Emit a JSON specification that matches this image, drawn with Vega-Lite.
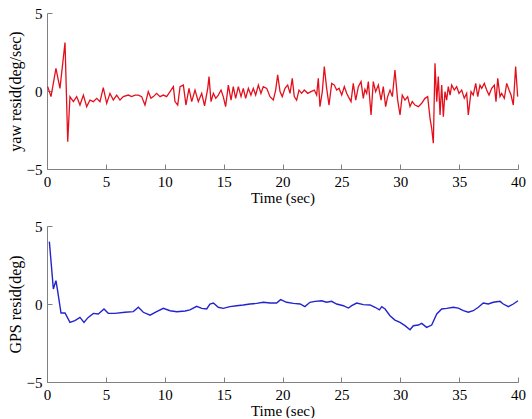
{
  "$schema": "https://vega.github.io/schema/vega-lite/v6.json",
  "padding": {"left": 7, "top": 6, "right": 8, "bottom": 0},
  "spacing": 14,
  "background": "white",
  "config": {
    "view": {"stroke": null},
    "font": "Liberation Serif",
    "axis": {
      "grid": false,
      "domainColor": "#808080",
      "tickColor": "#808080",
      "tickSize": -5,
      "labelFontSize": 15,
      "labelColor": "#000000",
      "titleFontSize": 15,
      "titleFontWeight": "normal",
      "titleColor": "#000000",
      "labelPadding": 10,
      "labelFlush": false
    },
    "axisY": {"titleFontSize": 16}
  },
  "datasets": {
    "yaw": [
      {"t":0.06,"v":0.28},{"t":0.34,"v":-0.36},{"t":0.76,"v":1.45},{"t":1.1,"v":0.17},{"t":1.53,"v":3.1},{"t":1.76,"v":-3.25},{"t":1.95,"v":-0.36},
      {"t":2.24,"v":-0.68},{"t":2.52,"v":-0.36},{"t":2.8,"v":-0.9},{"t":3.09,"v":-0.26},{"t":3.37,"v":-1.0},{"t":3.65,"v":-0.58},{"t":3.94,"v":-0.68},
      {"t":4.22,"v":-0.47},{"t":4.5,"v":-0.68},{"t":4.78,"v":0.21},{"t":5.07,"v":-0.79},{"t":5.35,"v":-0.15},{"t":5.63,"v":-0.58},{"t":5.92,"v":-0.26},
      {"t":6.2,"v":-0.58},{"t":6.48,"v":-0.36},{"t":6.9,"v":-0.26},{"t":7.19,"v":-0.36},{"t":7.47,"v":-0.26},{"t":7.76,"v":-0.26},{"t":8.04,"v":-0.36},
      {"t":8.32,"v":-0.9},{"t":8.6,"v":-0.04},{"t":8.83,"v":-0.47},{"t":9.03,"v":-0.36},{"t":9.31,"v":-0.15},{"t":9.6,"v":-0.36},{"t":9.88,"v":-0.26},
      {"t":10.16,"v":-0.36},{"t":10.45,"v":-0.04},{"t":10.73,"v":0.28},{"t":10.87,"v":-0.68},{"t":11.1,"v":-0.9},{"t":11.3,"v":0.28},{"t":11.58,"v":0.38},
      {"t":11.8,"v":-0.9},{"t":12.06,"v":0.17},{"t":12.29,"v":-0.68},{"t":12.57,"v":0.06},{"t":12.85,"v":-0.68},{"t":13.14,"v":-0.15},{"t":13.38,"v":-0.95},
      {"t":13.65,"v":0.17},{"t":13.76,"v":0.92},{"t":13.93,"v":-0.68},{"t":14.13,"v":-0.15},{"t":14.33,"v":-0.47},{"t":14.55,"v":-0.26},{"t":14.78,"v":0.06},
      {"t":14.97,"v":-0.36},{"t":15.17,"v":-1.0},{"t":15.4,"v":0.38},{"t":15.63,"v":-0.58},{"t":15.82,"v":0.28},{"t":16.02,"v":-0.47},{"t":16.25,"v":0.28},
      {"t":16.48,"v":-0.36},{"t":16.67,"v":0.17},{"t":16.87,"v":-0.47},{"t":17.1,"v":0.17},{"t":17.32,"v":-0.26},{"t":17.52,"v":0.17},{"t":17.72,"v":-0.26},
      {"t":17.95,"v":0.38},{"t":18.17,"v":-0.15},{"t":18.37,"v":0.28},{"t":18.66,"v":0.17},{"t":18.94,"v":-0.36},{"t":19.22,"v":-0.58},{"t":19.42,"v":0.06},
      {"t":19.59,"v":1.03},{"t":19.79,"v":-0.04},{"t":19.98,"v":-0.36},{"t":20.21,"v":0.17},{"t":20.44,"v":0.38},{"t":20.64,"v":-0.15},{"t":20.83,"v":0.81},
      {"t":21.0,"v":-0.36},{"t":21.2,"v":-0.58},{"t":21.4,"v":0.06},{"t":21.63,"v":-0.15},{"t":21.85,"v":0.06},{"t":22.14,"v":-0.15},{"t":22.42,"v":-0.04},
      {"t":22.7,"v":0.06},{"t":22.9,"v":-0.26},{"t":23.04,"v":0.81},{"t":23.18,"v":-1.0},{"t":23.38,"v":-0.04},{"t":23.55,"v":1.56},{"t":23.75,"v":0.17},
      {"t":23.95,"v":-0.9},{"t":24.18,"v":0.49},{"t":24.4,"v":0.38},{"t":24.6,"v":0.06},{"t":24.8,"v":0.17},{"t":25.03,"v":-0.26},{"t":25.25,"v":0.28},
      {"t":25.45,"v":-0.15},{"t":25.59,"v":-0.36},{"t":25.82,"v":-0.68},{"t":26.01,"v":0.49},{"t":26.22,"v":-0.58},{"t":26.44,"v":0.28},{"t":26.67,"v":0.6},
      {"t":26.86,"v":-0.47},{"t":27.0,"v":0.1},{"t":27.15,"v":-0.15},{"t":27.29,"v":0.6},{"t":27.52,"v":-1.54},{"t":27.71,"v":0.6},{"t":27.91,"v":-0.04},
      {"t":28.14,"v":0.38},{"t":28.37,"v":-0.58},{"t":28.56,"v":0.28},{"t":28.76,"v":-1.0},{"t":28.93,"v":-0.36},{"t":29.13,"v":0.06},{"t":29.33,"v":-0.36},
      {"t":29.55,"v":1.35},{"t":29.78,"v":-0.58},{"t":29.98,"v":-1.54},{"t":30.17,"v":-0.26},{"t":30.4,"v":-0.58},{"t":30.63,"v":-0.36},{"t":30.83,"v":-1.0},
      {"t":31.02,"v":-0.68},{"t":31.25,"v":-0.9},{"t":31.54,"v":-1.0},{"t":31.82,"v":-0.79},{"t":32.1,"v":-0.47},{"t":32.33,"v":-0.36},{"t":32.53,"v":-1.75},
      {"t":32.67,"v":-2.39},{"t":32.81,"v":-3.35},{"t":32.95,"v":1.77},{"t":33.1,"v":-0.68},{"t":33.23,"v":0.92},{"t":33.38,"v":-1.54},{"t":33.52,"v":0.38},
      {"t":33.66,"v":-1.65},{"t":33.8,"v":-0.04},{"t":33.94,"v":-0.58},{"t":34.08,"v":0.28},{"t":34.23,"v":-0.26},{"t":34.37,"v":0.38},{"t":34.59,"v":0.06},
      {"t":34.79,"v":0.28},{"t":34.99,"v":-0.15},{"t":35.22,"v":0.06},{"t":35.44,"v":-0.47},{"t":35.64,"v":-0.15},{"t":35.78,"v":-1.54},{"t":36.01,"v":-0.04},
      {"t":36.2,"v":-0.26},{"t":36.41,"v":0.49},{"t":36.58,"v":-0.36},{"t":36.77,"v":0.38},{"t":36.92,"v":0.17},{"t":37.14,"v":0.49},{"t":37.34,"v":0.06},
      {"t":37.54,"v":-0.26},{"t":37.77,"v":0.17},{"t":37.99,"v":0.38},{"t":38.13,"v":-0.68},{"t":38.28,"v":0.81},{"t":38.47,"v":-0.36},{"t":38.61,"v":-0.15},
      {"t":38.84,"v":-0.47},{"t":39.04,"v":0.49},{"t":39.24,"v":0.06},{"t":39.41,"v":-0.26},{"t":39.6,"v":-0.9},{"t":39.8,"v":1.56},{"t":39.97,"v":-0.36}
    ],
    "gps": [
      {"t":0.2,"v":4.0},{"t":0.54,"v":0.96},{"t":0.76,"v":1.5},{"t":0.88,"v":0.96},{"t":1.19,"v":-0.58},{"t":1.53,"v":-0.58},{"t":1.95,"v":-1.18},
      {"t":2.37,"v":-1.07},{"t":2.8,"v":-0.86},{"t":3.14,"v":-1.18},{"t":3.5,"v":-0.86},{"t":3.94,"v":-0.6},{"t":4.36,"v":-0.64},{"t":4.84,"v":-0.32},
      {"t":5.2,"v":-0.6},{"t":5.77,"v":-0.6},{"t":6.62,"v":-0.53},{"t":7.33,"v":-0.49},{"t":7.76,"v":-0.21},{"t":8.18,"v":-0.53},{"t":8.75,"v":-0.72},
      {"t":9.31,"v":-0.49},{"t":9.88,"v":-0.28},{"t":10.45,"v":-0.43},{"t":11.02,"v":-0.5},{"t":11.73,"v":-0.45},{"t":12.14,"v":-0.38},{"t":12.71,"v":-0.15},
      {"t":13.14,"v":-0.28},{"t":13.56,"v":-0.32},{"t":13.84,"v":0.0},{"t":14.13,"v":0.06},{"t":14.55,"v":-0.21},{"t":14.97,"v":-0.28},{"t":15.54,"v":-0.17},
      {"t":16.1,"v":-0.11},{"t":16.67,"v":-0.06},{"t":17.24,"v":0.0},{"t":17.8,"v":0.04},{"t":18.37,"v":0.11},{"t":18.94,"v":0.06},{"t":19.5,"v":0.06},
      {"t":19.84,"v":0.28},{"t":20.35,"v":0.11},{"t":20.92,"v":0.04},{"t":21.5,"v":0.0},{"t":21.9,"v":-0.17},{"t":22.33,"v":0.11},{"t":22.76,"v":0.17},
      {"t":23.32,"v":0.21},{"t":23.75,"v":0.11},{"t":24.17,"v":0.17},{"t":24.6,"v":0.0},{"t":25.17,"v":-0.11},{"t":25.6,"v":-0.26},{"t":25.88,"v":-0.11},
      {"t":26.3,"v":0.06},{"t":26.87,"v":-0.04},{"t":27.43,"v":-0.06},{"t":27.86,"v":-0.21},{"t":28.23,"v":-0.38},{"t":28.43,"v":-0.17},{"t":28.71,"v":-0.32},
      {"t":29.13,"v":-0.75},{"t":29.55,"v":-1.03},{"t":29.98,"v":-1.18},{"t":30.4,"v":-1.39},{"t":30.83,"v":-1.65},{"t":31.11,"v":-1.39},{"t":31.54,"v":-1.35},
      {"t":31.82,"v":-1.24},{"t":32.24,"v":-1.5},{"t":32.67,"v":-1.35},{"t":33.1,"v":-0.64},{"t":33.52,"v":-0.32},{"t":33.94,"v":-0.28},{"t":34.51,"v":-0.21},
      {"t":34.93,"v":-0.26},{"t":35.36,"v":-0.43},{"t":35.78,"v":-0.53},{"t":36.2,"v":-0.43},{"t":36.63,"v":-0.21},{"t":37.05,"v":0.06},{"t":37.48,"v":0.0},
      {"t":37.9,"v":0.11},{"t":38.47,"v":0.17},{"t":38.75,"v":0.0},{"t":39.18,"v":-0.17},{"t":39.6,"v":0.0},{"t":40.0,"v":0.21}
    ]
  },
  "vconcat": [
    {
      "width": 471,
      "height": 156,
      "data": {"name": "yaw"},
      "mark": {"type": "line", "color": "#e3101c", "strokeWidth": 1.3},
      "encoding": {
        "x": {"field": "t", "type": "quantitative", "scale": {"domain": [0, 40], "nice": false},
              "axis": {"values": [0,5,10,15,20,25,30,35,40], "title": "Time (sec)", "titlePadding": 1}},
        "y": {"field": "v", "type": "quantitative", "scale": {"domain": [-5, 5], "nice": false},
              "axis": {"values": [-5,0,5], "title": "yaw resid(deg/sec)", "titlePadding": 3}}
      }
    },
    {
      "width": 471,
      "height": 156,
      "data": {"name": "gps"},
      "mark": {"type": "line", "color": "#2323cf", "strokeWidth": 1.4},
      "encoding": {
        "x": {"field": "t", "type": "quantitative", "scale": {"domain": [0, 40], "nice": false},
              "axis": {"values": [0,5,10,15,20,25,30,35,40], "title": "Time (sec)", "titlePadding": 1}},
        "y": {"field": "v", "type": "quantitative", "scale": {"domain": [-5, 5], "nice": false},
              "axis": {"values": [-5,0,5], "title": "GPS resid(deg)", "titlePadding": 3}}
      }
    }
  ]
}
